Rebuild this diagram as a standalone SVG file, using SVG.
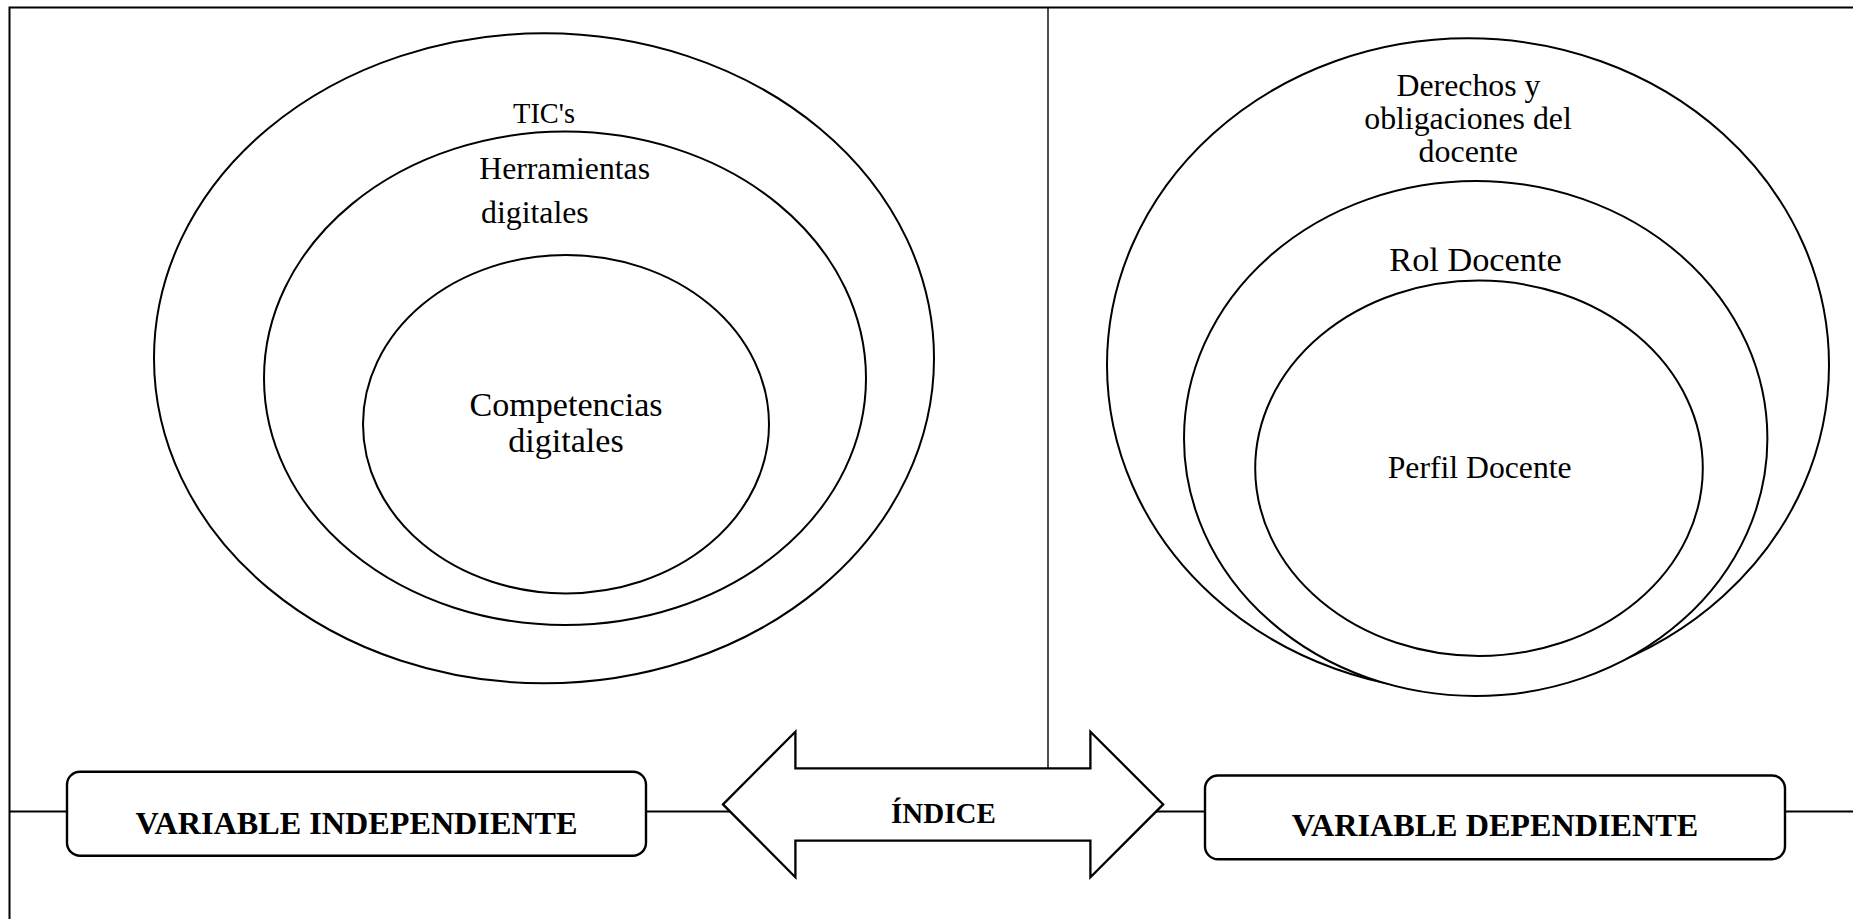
<svg xmlns="http://www.w3.org/2000/svg" width="1853" height="919" viewBox="0 0 1853 919">
<style>
.bg{fill:#ffffff}
.frame{fill:none;stroke:#000;stroke-width:2}
.div{fill:none;stroke:#000;stroke-width:1.4}
.ell{fill:#ffffff;stroke:#000;stroke-width:2}
.box{fill:#ffffff;stroke:#000;stroke-width:2.4}
.conn{fill:none;stroke:#000;stroke-width:2}
.arrow{fill:#ffffff;stroke:#000;stroke-width:2.3;stroke-linejoin:miter}
text{font-family:"Liberation Serif","Times New Roman",serif;fill:#000}
.c{text-anchor:middle}
.b{font-weight:bold}
</style>
<rect class="bg" x="0" y="0" width="1853" height="919"/>
<g id="frame">
<path class="frame" d="M9.5,919 V7.5 H1853"/>
<path class="div" d="M1048,7.5 V768.3"/>
</g>
<g id="connectors">
<line class="conn" x1="9.5" y1="811.6" x2="67" y2="811.6"/>
<line class="conn" x1="646" y1="811.6" x2="731" y2="811.6"/>
<line class="conn" x1="1155" y1="811.6" x2="1205" y2="811.6"/>
<line class="conn" x1="1785" y1="811.6" x2="1853" y2="811.6"/>
</g>
<g id="tics">
<ellipse class="ell" cx="544" cy="358.3" rx="390" ry="325"/>
<text x="544" y="122.7" class="c" font-size="28.4">TIC's</text>
</g>
<g id="herramientas">
<ellipse class="ell" cx="565" cy="378.3" rx="301" ry="246.7"/>
<text x="479.3" y="179.3" font-size="31.7">Herramientas</text>
<text x="481" y="223.3" font-size="31.8">digitales</text>
</g>
<g id="competencias">
<ellipse class="ell" cx="566" cy="424.2" rx="203" ry="169.2"/>
<text x="566" y="416" class="c" font-size="34.1">Competencias</text>
<text x="566" y="451.7" class="c" font-size="34.1">digitales</text>
</g>
<g id="derechos">
<ellipse class="ell" cx="1468" cy="365" rx="361" ry="326.7"/>
<text x="1468.5" y="96" class="c" font-size="31.8">Derechos y</text>
<text x="1468" y="129" class="c" font-size="31.8">obligaciones del</text>
<text x="1468.3" y="161.7" class="c" font-size="32">docente</text>
</g>
<g id="rol">
<ellipse class="ell" cx="1475.7" cy="438.5" rx="291.7" ry="257.5"/>
<text x="1475.5" y="270.7" class="c" font-size="34.3">Rol Docente</text>
</g>
<g id="perfil">
<ellipse class="ell" cx="1479" cy="468.3" rx="223.8" ry="187.7"/>
<text x="1479.7" y="478.3" class="c" font-size="31.7">Perfil Docente</text>
</g>
<g id="indice">
<polygon class="arrow" points="723,804.4 795.4,731.7 795.4,768.3 1090.4,768.3 1090.4,731.7 1163.2,804.4 1090.4,877.3 1090.4,840.7 795.4,840.7 795.4,877.3"/>
<text x="943.4" y="822.7" class="c b" font-size="29">ÍNDICE</text>
</g>
<g id="var-independiente">
<rect class="box" x="67" y="771.7" width="579" height="84" rx="13" ry="13"/>
<text x="356.5" y="834" class="c b" font-size="32.2">VARIABLE INDEPENDIENTE</text>
</g>
<g id="var-dependiente">
<rect class="box" x="1205" y="775.5" width="580" height="83.8" rx="13" ry="13"/>
<text x="1495" y="836" class="c b" font-size="32.2">VARIABLE DEPENDIENTE</text>
</g>
</svg>
